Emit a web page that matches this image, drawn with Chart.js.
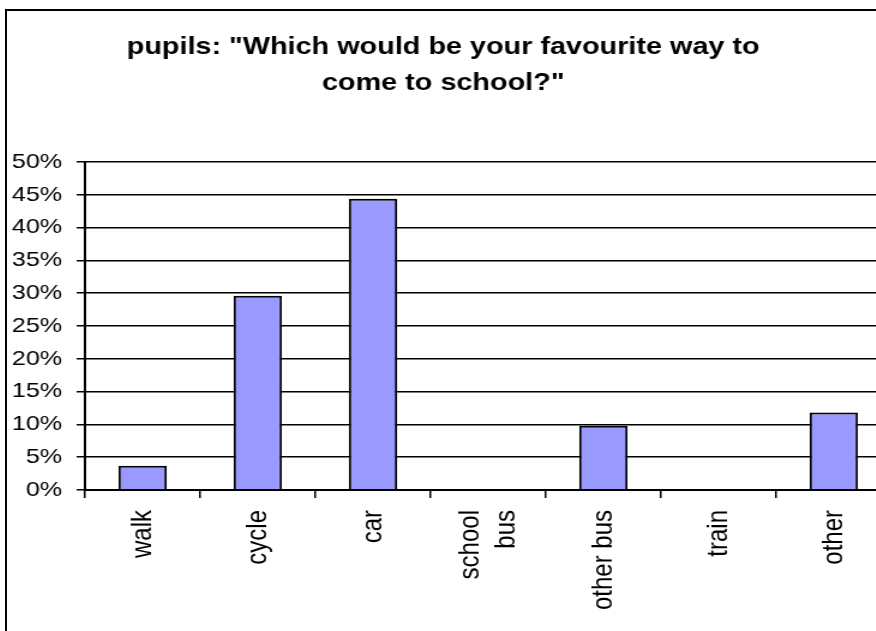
<!DOCTYPE html>
<html>
<head>
<meta charset="utf-8">
<script src="https://cdn.jsdelivr.net/npm/chart.js@4/dist/chart.umd.min.js"></script>
<style>
  html, body { margin: 0; padding: 0; background: #fff; overflow: hidden; }
  #page { position: absolute; left: 0; top: 0; width: 876px; height: 631px; overflow: hidden; background: #fff; }
  #frame { position: absolute; left: 5px; top: 9px; width: 1000px; height: 1000px; border: 2px solid #000; }
  /* chart is drawn narrower and widened 1.2x, like the original sheet export */
  #wrap { position: absolute; left: -5px; top: 0; width: 747px; height: 631px; transform: scaleX(1.2); transform-origin: 0 0; }
</style>
</head>
<body>
<div id="page">
  <div id="frame"></div>
  <div id="wrap"><canvas id="modeChart"></canvas></div>
</div>
<script>
// Favourite way to come to school, share of pupils (%)
const modes = ['walk', 'cycle', 'car', ['school', 'bus'], 'other bus', 'train', 'other'];
const shares = [3.7, 29.6, 44.4, 0, 9.8, 0, 11.8];
const titleLines = ['pupils: "Which would be your favourite way to', 'come to school?"'];
const yMax = 50;
const yStep = 5;

const fontFamily = '"Liberation Sans", Arial, sans-serif';

// centre two-line category labels on their tick instead of hanging them to the right
const centerMultiLineLabels = {
  id: 'centerMultiLineLabels',
  beforeDraw(chart) {
    const scale = chart.scales.x;
    const lineHeight = scale.options.ticks.font.size * scale.options.ticks.font.lineHeight;
    scale.getLabelItems(chart.chartArea).forEach((item) => {
      if (Array.isArray(item.label) && item.label.length > 1) {
        item.textOffset -= (item.label.length - 1) * lineHeight / 2;
      }
    });
  },
};

new Chart(document.getElementById('modeChart'), {
  type: 'bar',
  data: {
    labels: modes,
    datasets: [{
      data: shares,
      backgroundColor: '#9999ff',
      borderColor: '#000',
      borderWidth: 2,
      categoryPercentage: 1,
      barPercentage: 0.42,
    }],
  },
  plugins: [centerMultiLineLabels],
  options: {
    responsive: true,
    maintainAspectRatio: false,
    animation: false,
    layout: { padding: 0 },
    plugins: {
      legend: { display: false },
      tooltip: { enabled: false },
      title: {
        display: true,
        text: titleLines,
        color: '#000',
        font: { family: fontFamily, size: 24, weight: 'bold', lineHeight: 1.5 },
        padding: { top: 29, bottom: 61 },
      },
    },
    scales: {
      x: {
        grid: { drawOnChartArea: false, drawTicks: true, tickLength: 8, color: '#000', lineWidth: 1.5 },
        border: { color: '#000', width: 2 },
        ticks: {
          color: '#000',
          font: { family: fontFamily, size: 24, lineHeight: 1.25 },
          minRotation: 90,
          maxRotation: 90,
          padding: 12,
          autoSkip: false,
        },
        afterFit: (scale) => { scale.height = 141; },
      },
      y: {
        min: 0,
        max: yMax,
        grid: { color: '#000', lineWidth: 1.5, tickLength: 7 },
        border: { color: '#000', width: 2 },
        ticks: {
          stepSize: yStep,
          color: '#000',
          font: { family: fontFamily, size: 21 },
          padding: 12,
          callback: (v) => v + '%',
        },
        afterFit: (scale) => { scale.width = 75; },
      },
    },
  },
});
</script>
</body>
</html>
